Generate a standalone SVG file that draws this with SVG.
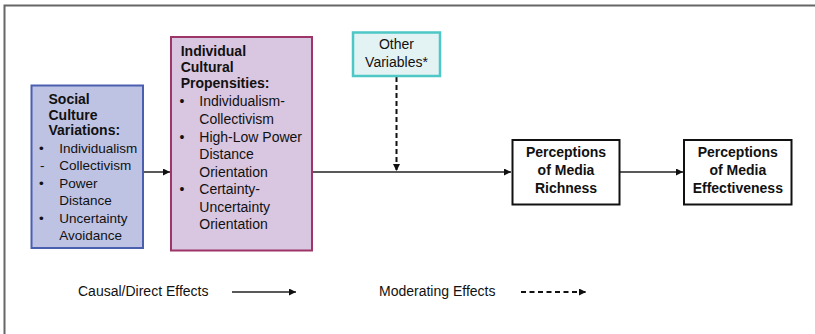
<svg xmlns="http://www.w3.org/2000/svg" width="815" height="334" viewBox="0 0 815 334">
<defs>
<style>
text{font-family:"Liberation Sans",Arial,sans-serif;font-size:14px;fill:#111}
.b{font-weight:bold}
.s{font-size:13.5px}
.c{text-anchor:middle}
.ln{stroke:#222;stroke-width:1.5;fill:none}
.dash{stroke:#111;stroke-width:2;stroke-dasharray:5 3;fill:none}
</style>
<marker id="ah" markerUnits="userSpaceOnUse" markerWidth="8" markerHeight="8" refX="7" refY="3.5" orient="auto">
<path d="M0,0 L7,3.5 L0,7 z" fill="#111"/>
</marker>
</defs>
<rect width="815" height="334" fill="#fff"/>
<path d="M4.5,334 V5.5 H815" stroke="#666" stroke-width="2" fill="none"/>

<g id="connectors">
<line class="ln" x1="143.5" y1="172" x2="170" y2="172" marker-end="url(#ah)"/>
<line class="ln" x1="312.5" y1="172" x2="511" y2="172" marker-end="url(#ah)"/>
<line class="dash" x1="396.5" y1="77" x2="396.5" y2="171" marker-end="url(#ah)"/>
<line class="ln" x1="620" y1="172" x2="683" y2="172" marker-end="url(#ah)"/>
</g>

<g id="social">
<rect x="31.5" y="85.5" width="111.5" height="162.5" fill="#bfc3e3" stroke="#4b5fb0" stroke-width="2"/>
<text class="b" x="48.5" y="104">Social</text>
<text class="b" x="48.5" y="119.5">Culture</text>
<text class="b" x="48.5" y="135">Variations:</text>
<text class="s" x="39" y="152.5">•</text><text class="s" x="59.3" y="152.5">Individualism</text>
<text class="s" x="40" y="170">-</text><text class="s" x="59.3" y="170">Collectivism</text>
<text class="s" x="39" y="187.5">•</text><text class="s" x="59.3" y="187.5">Power</text>
<text class="s" x="59.3" y="205">Distance</text>
<text class="s" x="39" y="222.5">•</text><text class="s" x="59.3" y="222.5">Uncertainty</text>
<text class="s" x="59.3" y="240">Avoidance</text>
</g>

<g id="individual">
<rect x="171" y="37" width="141" height="213.5" fill="#d9c6e0" stroke="#9e3568" stroke-width="2"/>
<text class="b" x="180.7" y="56">Individual</text>
<text class="b" x="180.7" y="71.5">Cultural</text>
<text class="b" x="180.7" y="88">Propensities:</text>
<text x="179.5" y="106">•</text><text x="199.3" y="106">Individualism-</text>
<text x="199.3" y="123.5">Collectivism</text>
<text x="179.5" y="141.5">•</text><text x="199.3" y="141.5">High-Low Power</text>
<text x="199.3" y="159">Distance</text>
<text x="199.3" y="176.7">Orientation</text>
<text x="179.5" y="194">•</text><text x="199.3" y="194">Certainty-</text>
<text x="199.3" y="211.7">Uncertainty</text>
<text x="199.3" y="229.3">Orientation</text>
</g>

<g id="other">
<rect x="353" y="32.5" width="87" height="43.5" fill="#e3f3f3" stroke="#4ec7c7" stroke-width="2.5"/>
<text class="c" x="396.5" y="48.5">Other</text>
<text class="c" x="396.5" y="66.5">Variables*</text>
</g>

<g id="richness">
<rect x="512.5" y="140" width="107" height="64.5" fill="#fff" stroke="#111" stroke-width="2"/>
<text class="b c" x="566" y="157">Perceptions</text>
<text class="b c" x="566" y="174.5">of Media</text>
<text class="b c" x="566" y="193">Richness</text>
</g>

<g id="effectiveness">
<rect x="684" y="140" width="107.5" height="64.5" fill="#fff" stroke="#111" stroke-width="2"/>
<text class="b c" x="737.8" y="157">Perceptions</text>
<text class="b c" x="737.8" y="175">of Media</text>
<text class="b c" x="737.8" y="193">Effectiveness</text>
</g>

<g id="legend">
<text x="78" y="296">Causal/Direct Effects</text>
<line class="ln" x1="232" y1="292" x2="296" y2="292" marker-end="url(#ah)"/>
<text x="379" y="296">Moderating Effects</text>
<line x1="521" y1="292" x2="586" y2="292" stroke="#111" stroke-width="2" stroke-dasharray="5 3.5" marker-end="url(#ah)"/>
</g>
</svg>
